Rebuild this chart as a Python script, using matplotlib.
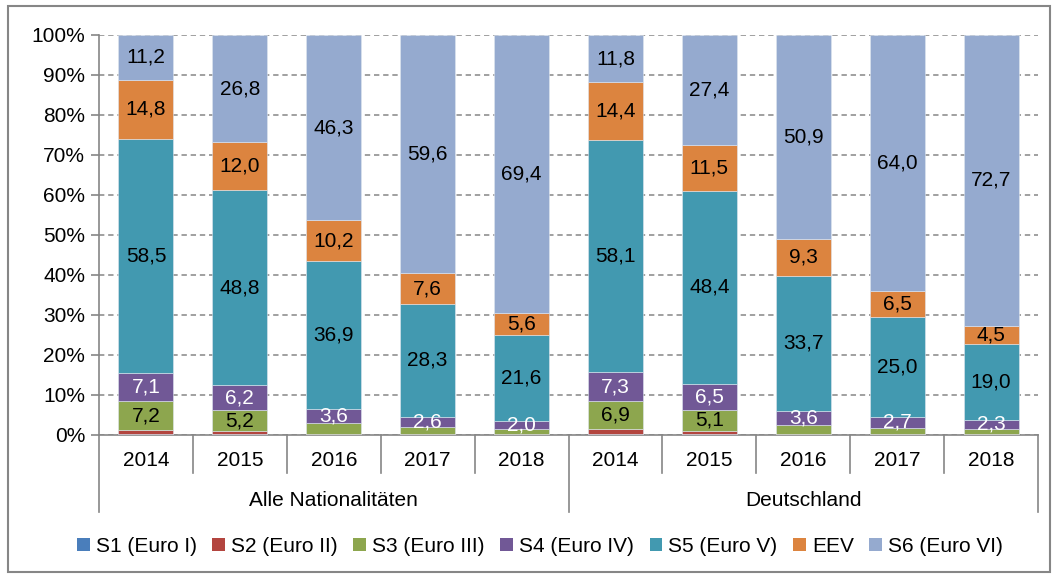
import numpy as np
import matplotlib.pyplot as plt
from matplotlib.patches import Rectangle, Patch

plt.rcParams['font.family'] = ['Liberation Sans', 'DejaVu Sans']

# ----------------------------------------------------------------------
# Daten (Anteile in %)
# ----------------------------------------------------------------------
years = ['2014', '2015', '2016', '2017', '2018'] * 2
groups = ['Alle Nationalitäten', 'Deutschland']
series = ['S1 (Euro I)', 'S2 (Euro II)', 'S3 (Euro III)', 'S4 (Euro IV)',
          'S5 (Euro V)', 'EEV', 'S6 (Euro VI)']

s1 = [0.2, 0.3, 0.0, 0.0, 0.0, 0.3, 0.2, 0.0, 0.0, 0.0]
s2 = [1.0, 0.7, 0.3, 0.2, 0.2, 1.2, 0.9, 0.3, 0.2, 0.2]
s3 = [7.2, 5.2, 2.7, 1.7, 1.2, 6.9, 5.1, 2.2, 1.6, 1.3]
s4 = [7.1, 6.2, 3.6, 2.6, 2.0, 7.3, 6.5, 3.6, 2.7, 2.3]
s5 = [58.5, 48.8, 36.9, 28.3, 21.6, 58.1, 48.4, 33.7, 25.0, 19.0]
eev = [14.8, 12.0, 10.2, 7.6, 5.6, 14.4, 11.5, 9.3, 6.5, 4.5]
s6 = [11.2, 26.8, 46.3, 59.6, 69.4, 11.8, 27.4, 50.9, 64.0, 72.7]

# welche Segmente beschriftet werden
s3_labeled = [True, True, False, False, False, True, True, False, False, False]

colors = ['#4a7ebb', '#b3453f', '#8da64e', '#715896', '#4299b0', '#dc843f', '#95aacf']
label_colors = [None, None, 'black', 'white', 'black', 'black', 'black']

# ----------------------------------------------------------------------
# Diagramm
# ----------------------------------------------------------------------
fig = plt.figure(figsize=(10.55, 5.78), dpi=100)
ax = fig.add_axes([99 / 1055, 1 - 435 / 578, (1038 - 99) / 1055, 400 / 578])

grey = '#868686'
fs = 15
x = np.arange(len(years))
bottom = np.zeros(len(years))
all_series = [s1, s2, s3, s4, s5, eev, s6]

for k, vals in enumerate(all_series):
    vals = np.array(vals)
    ax.bar(x, vals, width=0.585, bottom=bottom, color=colors[k],
           edgecolor='#dfe6f0', linewidth=0.4, zorder=3)
    if label_colors[k] is not None:
        for i, v in enumerate(vals):
            if k == 2 and not s3_labeled[i]:
                continue
            ax.text(x[i], bottom[i] + v / 2, f'{v:.1f}'.replace('.', ','),
                    ha='center', va='center', fontsize=fs,
                    color=label_colors[k], zorder=4)
    bottom += vals

ax.set_xlim(-0.5, len(years) - 0.5)
ax.set_ylim(0, 100)
ax.set_yticks(np.arange(0, 101, 10))
ax.set_yticklabels([f'{t}%' for t in range(0, 101, 10)], fontsize=fs)
ax.yaxis.grid(True, linestyle=(0, (3.5, 2.5)), color=grey, linewidth=1.1, zorder=0)
ax.tick_params(axis='y', length=6, width=1.2, color=grey, pad=4)
ax.set_xticks([])

for side in ['top', 'right']:
    ax.spines[side].set_visible(False)
for side in ['left', 'bottom']:
    ax.spines[side].set_color(grey)
    ax.spines[side].set_linewidth(1.2)

# Kategorienachse mit zwei Ebenen
trans = ax.get_xaxis_transform()
for b in np.arange(-0.5, len(years), 1.0):
    if b in (-0.5, 4.5, 9.5):
        y_end = -77 / 400
    else:
        y_end = -38 / 400
    ax.plot([b, b], [0, y_end], color=grey, linewidth=1.2,
            transform=trans, clip_on=False)
for i, yr in enumerate(years):
    ax.text(x[i], -26 / 400, yr, ha='center', va='center', fontsize=fs,
            transform=trans)
for g, grp in enumerate(groups):
    ax.text(2 + 5 * g, -65 / 400, grp, ha='center', va='center', fontsize=fs,
            transform=trans)

# Legende
handles = [Patch(facecolor=c, edgecolor='none') for c in colors]
fig.legend(handles, series, loc='center', bbox_to_anchor=(540 / 1055, 1 - 546 / 578),
           ncol=7, frameon=False, fontsize=fs, handlelength=0.6, handleheight=0.6,
           handletextpad=0.3, columnspacing=0.75)

# Rahmen um das Diagramm
fig.patches.append(Rectangle((8 / 1055, 6 / 578), 1042 / 1055, 566 / 578,
                             transform=fig.transFigure, fill=False,
                             edgecolor=grey, linewidth=1.5))

plt.savefig('out.png', dpi=100)
